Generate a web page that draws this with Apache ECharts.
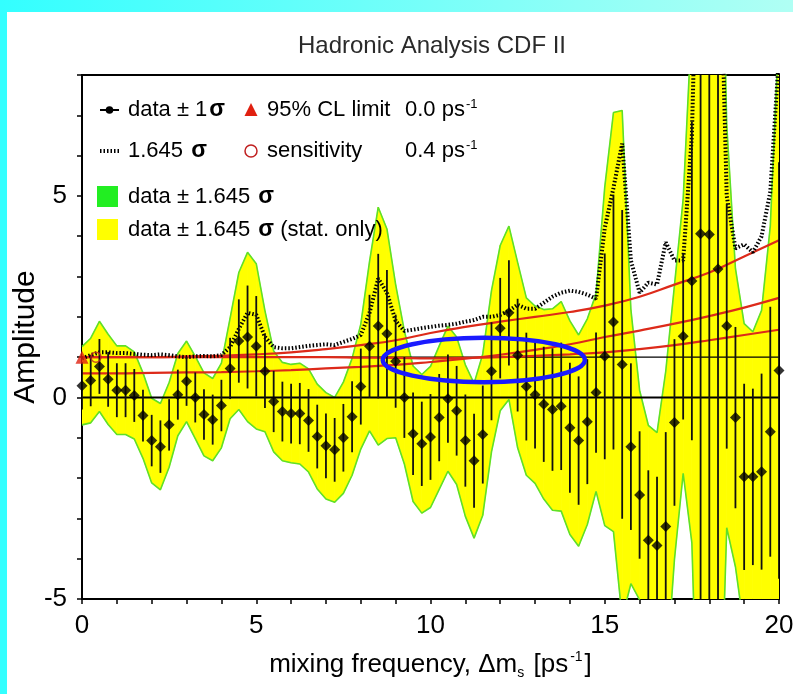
<!DOCTYPE html>
<html><head><meta charset="utf-8">
<script src="https://cdn.jsdelivr.net/npm/echarts@6/dist/echarts.min.js"></script>
<style>html,body{margin:0;padding:0;background:#fff;} #c{width:793px;height:694px;}</style>
</head><body><div id="c"></div>
<script>
// mixing frequency points (ps^-1)
const freq = [0,0.25,0.5,0.75,1,1.25,1.5,1.75,2,2.25,2.5,2.75,3,3.25,3.5,3.75,4,4.25,4.5,4.75,
  5,5.25,5.5,5.75,6,6.25,6.5,6.75,7,7.25,7.5,7.75,8,8.25,8.5,8.75,9,9.25,9.5,9.75,
  10,10.25,10.5,10.75,11,11.25,11.5,11.75,12,12.25,12.5,12.75,13,13.25,13.5,13.75,14,14.25,14.5,14.75,
  15,15.25,15.5,15.75,16,16.25,16.5,16.75,17,17.25,17.5,17.75,18,18.25,18.5,18.75,19,19.25,19.5,19.75,20];
// measured amplitude
const amplitude = [0.29,0.42,0.77,0.45,0.18,0.18,0.05,-0.45,-1.07,-1.22,-0.68,0.07,0.40,0.00,-0.42,-0.55,-0.20,0.72,1.40,1.50,
  1.27,0.65,-0.10,-0.35,-0.40,-0.40,-0.57,-0.97,-1.20,-1.30,-1.00,-0.48,0.27,1.27,1.77,1.58,0.90,0.00,-0.90,-1.15,
  -0.98,-0.50,-0.03,-0.33,-1.07,-1.57,-0.92,0.65,1.72,2.10,1.05,0.27,0.07,-0.17,-0.30,-0.22,-0.75,-1.07,-0.60,0.12,
  1.02,1.87,0.82,-1.22,-2.42,-3.54,-3.67,-3.20,-0.62,1.52,2.89,4.06,4.04,3.19,1.77,-0.50,-1.97,-1.97,-1.84,-0.85,0.67];
// 1.645 sigma (dotted curve)
const sigma1645 = [0.97,1.05,1.12,1.12,1.10,1.10,1.08,1.06,1.05,1.07,1.05,1.02,1.00,1.02,1.03,1.02,1.05,1.25,1.70,2.10,
  2.05,1.50,1.25,1.22,1.22,1.25,1.28,1.30,1.32,1.30,1.38,1.45,1.55,2.10,2.95,2.60,1.90,1.65,1.68,1.72,
  1.75,1.78,1.80,1.83,1.88,1.92,2.00,2.00,2.05,2.15,2.30,2.20,2.20,2.35,2.50,2.60,2.65,2.62,2.55,2.45,
  4.20,5.20,6.30,3.40,2.60,2.85,2.80,3.85,3.40,3.40,6.50,15.0,15.0,13.5,5.00,3.70,3.80,3.60,4.00,5.10,8.50];
// red curves
const redX = [0,1,2,3,4,5,6,7,8,9,10,11,12,13,14,15,16,17,18,19,20];
const redUpper = [1.0,1.0,1.0,1.02,1.04,1.07,1.12,1.2,1.3,1.42,1.6,1.75,1.88,2.0,2.12,2.28,2.5,2.8,3.1,3.5,3.9];
const redMiddle = [0.6,0.6,0.61,0.62,0.63,0.65,0.68,0.72,0.76,0.81,0.88,0.96,1.06,1.18,1.32,1.5,1.66,1.83,2.02,2.23,2.47];
const redLower = [1.0,1.0,1.0,1.0,1.0,1.0,1.0,1.0,0.99,0.98,0.97,0.98,1.0,1.03,1.07,1.12,1.2,1.3,1.42,1.55,1.68];
// limit / sensitivity markers
const limitPoint = [0.0, 1.0];
const sensPoint = [0.4, 1.0];
// highlighted region (blue ellipse): centre x, centre y, half-width, half-height
const ellipse = [11.53, 0.93, 2.9, 0.55];
const xLabels = [0,5,10,15,20];
const yLabels = [-5,0,5];

const FONT = 'Liberation Sans, Arial, sans-serif';
const chart = echarts.init(document.getElementById('c'), null, {renderer:'canvas'});

const upperEdge = amplitude.map((a,i)=>[freq[i], a + sigma1645[i]]);
const lowerEdge = amplitude.map((a,i)=>[freq[i], a - sigma1645[i]]);
const bandSegs = freq.slice(0,-1).map((x,i)=>[x, lowerEdge[i][1], upperEdge[i][1], freq[i+1], lowerEdge[i+1][1], upperEdge[i+1][1]]);
const errData = amplitude.map((a,i)=>[freq[i], a, sigma1645[i]/1.645]);
const pts = amplitude.map((a,i)=>[freq[i], a]);
const dotted = sigma1645.map((s,i)=>[freq[i], s]);
const zip = (xs, ys) => xs.map((x,i)=>[x, ys[i]]);

const legRich = {
  t:{fontSize:22,fontFamily:FONT,fill:'#000'},
  g:{fontSize:23,fontFamily:FONT,fill:'#000',fontWeight:'bold',padding:[0,0,0,2]},
  s:{fontSize:13,fontFamily:FONT,fill:'#000',verticalAlign:'top',padding:[0,0,12,1]}
};
const legText = (x,y,txt)=>({type:'text',x:x,y:y,z:100,style:{text:txt,verticalAlign:'middle',rich:legRich}});

const option = {
  animation:false,
  backgroundColor:'#fff',
  grid:{left:82,right:14,top:75,bottom:95,show:true,borderColor:'#000',borderWidth:2,backgroundColor:'transparent',
        containLabel:false,outerBoundsMode:'none'},
  xAxis:{type:'value',min:0,max:20,interval:1,
    axisLine:{show:true,onZero:false,lineStyle:{color:'#000',width:2}},
    axisTick:{show:true,inside:false,length:5,lineStyle:{color:'#000',width:1.5}},
    axisLabel:{margin:14,color:'#000',fontSize:26,fontFamily:FONT,
      formatter:v=> xLabels.includes(v) ? String(v) : ''},
    splitLine:{show:false},
    name:'{n|mixing frequency, Δm}{sub|s}{n| [ps}{sup|-1}{n|]}',
    nameLocation:'middle',nameGap:51,nameMoveOverlap:false,
    nameTextStyle:{rich:{
      n:{fontSize:26,fontFamily:FONT,color:'#000'},
      sub:{fontSize:14,fontFamily:FONT,color:'#000',verticalAlign:'bottom',padding:[14,2,0,0]},
      sup:{fontSize:14,fontFamily:FONT,color:'#000',verticalAlign:'top',padding:[0,2,16,2]}
    }}
  },
  yAxis:{type:'value',min:-5,max:8,interval:1,
    axisLine:{show:true,onZero:false,lineStyle:{color:'#000',width:2}},
    axisTick:{show:true,inside:false,length:5,lineStyle:{color:'#000',width:1.5}},
    axisLabel:{margin:15,color:'#000',fontSize:26,fontFamily:FONT,
      formatter:v=> yLabels.includes(v) ? String(v) : ''},
    splitLine:{show:false},
    name:'Amplitude',nameLocation:'middle',nameGap:41,nameRotate:90,nameMoveOverlap:false,
    nameTextStyle:{fontSize:30,fontFamily:FONT,color:'#000'}
  },
  series:[
    {type:'custom',data:bandSegs,clip:true,z:1,
     renderItem:(p,api)=>{
       const a=api.coord([api.value(0),api.value(2)]), b=api.coord([api.value(3),api.value(5)]);
       const c=api.coord([api.value(3),api.value(4)]), d=api.coord([api.value(0),api.value(1)]);
       return {type:'polygon',shape:{points:[a,b,c,d]},style:{fill:'#ffff00',stroke:'#ffff00',lineWidth:0.8}};
     }},
    {type:'line',data:upperEdge,symbol:'none',lineStyle:{color:'#5ee02a',width:1.6},z:2},
    {type:'line',data:lowerEdge,symbol:'none',lineStyle:{color:'#5ee02a',width:1.6},z:2},
    {type:'line',data:[[0,0],[20,0]],symbol:'none',lineStyle:{color:'#000',width:2},z:3},
    {type:'line',data:[[0,1],[20,1]],symbol:'none',lineStyle:{color:'#000',width:1.3},z:3},
    {type:'line',data:zip(redX,redUpper),smooth:true,symbol:'none',lineStyle:{color:'#dd2a1a',width:2.2},z:4},
    {type:'line',data:zip(redX,redMiddle),smooth:true,symbol:'none',lineStyle:{color:'#dd2a1a',width:2.2},z:4},
    {type:'line',data:zip(redX,redLower),smooth:true,symbol:'none',lineStyle:{color:'#dd2a1a',width:2.2},z:4},
    {type:'line',data:dotted,symbol:'none',lineStyle:{color:'#000',width:4,type:[1.5,2]},z:5},
    {type:'custom',data:errData,clip:true,z:6,
     renderItem:(p,api)=>{
       const x=api.value(0), y=api.value(1), s=api.value(2);
       const a=api.coord([x,y-s]), b=api.coord([x,y+s]);
       return {type:'line',shape:{x1:a[0],y1:a[1],x2:b[0],y2:b[1]},style:{stroke:'#111',lineWidth:1.8}};
     }},
    {type:'scatter',data:pts,symbol:'diamond',symbolSize:11,itemStyle:{color:'#000'},z:7},
    {type:'scatter',data:[limitPoint],symbol:'triangle',symbolSize:13,itemStyle:{color:'#e02010'},z:8},
    {type:'scatter',data:[sensPoint],symbol:'circle',symbolSize:10,itemStyle:{color:'rgba(0,0,0,0)',borderColor:'#c02020',borderWidth:1.5},z:8},
    {type:'custom',data:[ellipse],clip:false,z:9,
     renderItem:(p,api)=>{
       const c=api.coord([api.value(0),api.value(1)]);
       const s=api.size([api.value(2),api.value(3)]);
       return {type:'ellipse',shape:{cx:c[0],cy:c[1],rx:s[0],ry:s[1]},style:{fill:null,stroke:'#1a1aff',lineWidth:4.5}};
     }}
  ],
  graphic:[
    {type:'rect',shape:{x:0,y:0,width:7,height:694},style:{fill:'#33ffff'},z:100},
    {type:'rect',shape:{x:0,y:0,width:793,height:12},style:{fill:new echarts.graphic.LinearGradient(0,0,1,0,[{offset:0,color:'#33ffff'},{offset:1,color:'#b0fff4'}])},z:100},
    {type:'text',x:432,y:46,style:{text:'Hadronic Analysis CDF II',fontSize:24,fontFamily:FONT,fill:'#2a2a2a',align:'center',verticalAlign:'middle'},z:100},
    // legend
    {type:'line',shape:{x1:100,y1:110,x2:119,y2:110},style:{stroke:'#000',lineWidth:2},z:100},
    {type:'circle',shape:{cx:109.5,cy:110,r:3.8},style:{fill:'#000'},z:100},
    legText(128,110,'{t|data ± 1}{g|σ}'),
    {type:'line',shape:{x1:100,y1:151,x2:119,y2:151},style:{stroke:'#000',lineWidth:4,lineDash:[1.5,2]},z:100},
    legText(128,151,'{t|1.645 }{g|σ}'),
    {type:'rect',shape:{x:97,y:186,width:21,height:21},style:{fill:'#22ee22'},z:100},
    legText(128,197,'{t|data ± 1.645 }{g|σ}'),
    {type:'rect',shape:{x:97,y:219,width:21,height:21},style:{fill:'#ffff00'},z:100},
    legText(128,230,'{t|data ± 1.645 }{g|σ}{t| (stat. only)}'),
    {type:'polygon',shape:{points:[[251,103],[244.5,116],[257.5,116]]},style:{fill:'#e02010'},z:100},
    legText(267,110,'{t|95% CL limit}'),
    legText(405,110,'{t|0.0 ps}{s|-1}'),
    {type:'circle',shape:{cx:251,cy:151,r:6},style:{fill:'none',stroke:'#c02020',lineWidth:1.5},z:100},
    legText(267,151,'{t|sensitivity}'),
    legText(405,151,'{t|0.4 ps}{s|-1}')
  ]
};
chart.setOption(option);
</script></body></html>
